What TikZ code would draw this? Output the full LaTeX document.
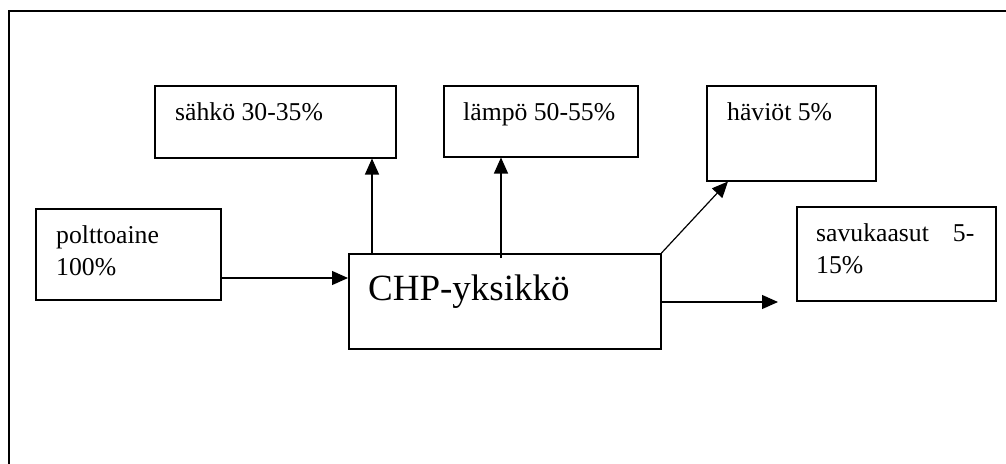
\documentclass[tikz,border=0pt]{standalone}
\usepackage{fontspec}
\setmainfont{Liberation Serif}
\usetikzlibrary{arrows.meta,calc}
\tikzset{
  box/.style={draw,line width=1.5pt,rectangle,inner sep=0pt,anchor=north west},
  txt/.style={anchor=base west,inner sep=0pt,font=\fontsize{25.7pt}{32pt}\selectfont,align=left},
  flow/.style={line width=1.2pt,-{Triangle[length=16pt,width=14pt]}}
}
\begin{document}
\begin{tikzpicture}[x=1pt,y=-1pt]
\clip (0,0) rectangle (1006,463);
\useasboundingbox (0,0) rectangle (1006,463);
\draw[line width=1.8pt] (9,480) -- (9,11) -- (1020,11);
% boxes
\node[box,minimum width=241pt,minimum height=72pt] (s) at (154,85) {};
\node[box,minimum width=194pt,minimum height=71pt] (l) at (443,85) {};
\node[box,minimum width=169pt,minimum height=95pt] (h) at (706,85) {};
\node[box,minimum width=185pt,minimum height=91pt] (p) at (35,208) {};
\node[box,minimum width=199pt,minimum height=94pt] (v) at (796,206) {};
\node[box,minimum width=312pt,minimum height=95pt] (c) at (348,253) {};
% texts
\node[txt] (st) at ($(s.north west)+(21,35)$) {sähkö 30-35\%};
\node[txt] (lt) at ($(l.north west)+(20,35)$) {lämpö 50-55\%};
\node[txt] (ht) at ($(h.north west)+(21,35)$) {häviöt 5\%};
\node[txt] (pt) at ($(p.north west)+(21,67)$) {polttoaine\\100\%};
\node[txt] (vt) at ($(v.north west)+(20,67)$) {savukaasut\hspace{24pt}5-\\15\%};
\node[anchor=base west,inner sep=0pt,font=\fontsize{37pt}{40pt}\selectfont] (ct) at ($(c.north west)+(20,47)$) {CHP-yksikkö};
% connectors
\draw[flow] (p.east |- 0,278) -- (c.west |- 0,278);
\draw[flow] (c.north -| 372,0) -- (s.south -| 372,0);
\draw[flow] ($(c.north -| 501,0)+(0,5)$) -- (l.south -| 501,0);
\draw[flow] (c.north east) -- ($(h.south west)+(22,0)$);
\coordinate (vend) at (778,302);
\draw[flow] (c.east |- vend) -- (vend);
\end{tikzpicture}
\end{document}
